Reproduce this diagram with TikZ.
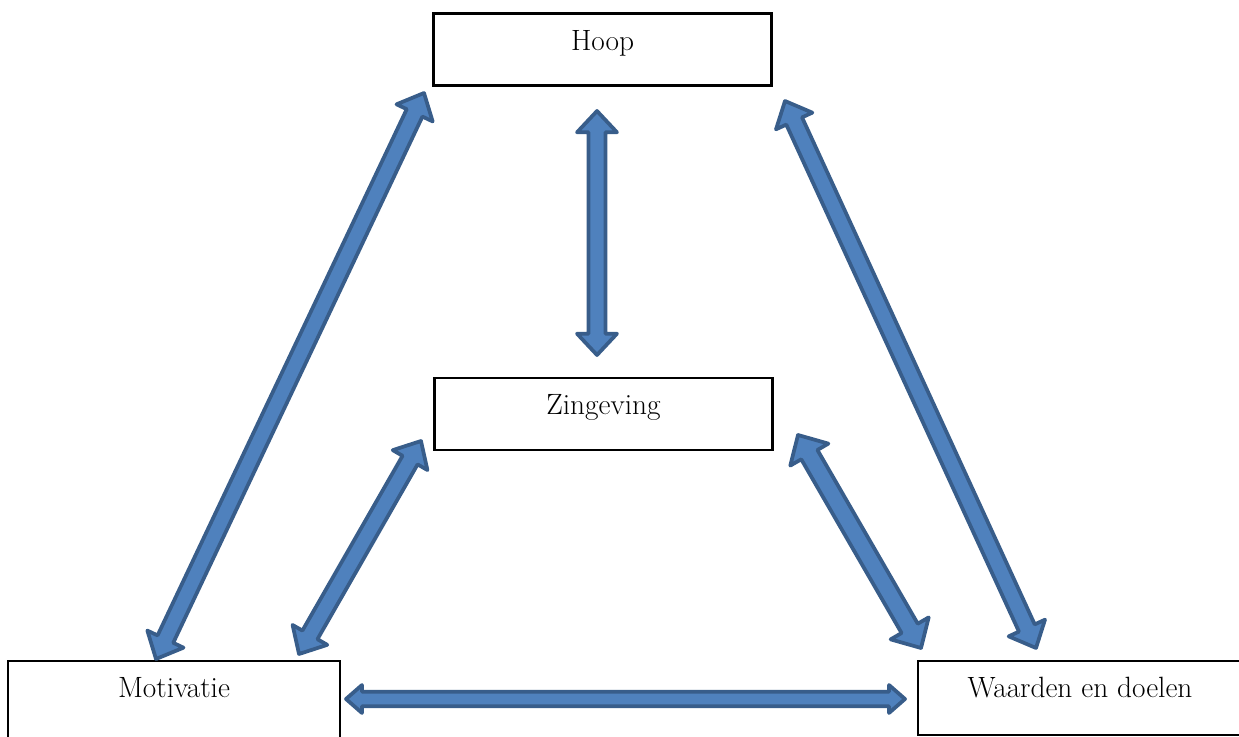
\documentclass[tikz,border=0pt]{standalone}
\usetikzlibrary{calc}
\definecolor{afill}{HTML}{4F81BD}
\definecolor{aline}{HTML}{385D8A}
\tikzset{
  box/.style={draw=black, line width=1.6pt, inner sep=0pt, fill=white},
  arr/.style={fill=afill, draw=aline, line width=2.8pt, line join=round},
  lbl/.style={font=\fontsize{22}{26}\selectfont, anchor=base, inner sep=0pt}
}
% #1 from, #2 to, #3 head length, #4 shaft half width, #5 head half width
\newcommand\dblarrow[5]{%
  \filldraw[arr] (#1)
    -- ($(#1)!#3!(#2)!#5!90:(#2)$)
    -- ($(#1)!#3!(#2)!#4!90:(#2)$)
    -- ($(#2)!#3!(#1)!#4!-90:(#1)$)
    -- ($(#2)!#3!(#1)!#5!-90:(#1)$)
    -- (#2)
    -- ($(#2)!#3!(#1)!#5!90:(#1)$)
    -- ($(#2)!#3!(#1)!#4!90:(#1)$)
    -- ($(#1)!#3!(#2)!#4!-90:(#2)$)
    -- ($(#1)!#3!(#2)!#5!-90:(#2)$)
    -- cycle;}
\begin{document}
\begin{tikzpicture}[x=0.75pt, y=-0.75pt]
  \useasboundingbox (0,0) rectangle (1239,737);
  \clip (0,0) rectangle (1239,737);
  % boxes
  \node[box, minimum width=253.5pt, minimum height=54pt] (hoop) at (602.5,49.5) {};
  \node[box, minimum width=253.5pt, minimum height=54pt] (zin) at (603.5,414) {};
  \node[box, minimum width=249pt, minimum height=59.25pt] (mot) at (174,700.5) {};
  \node[box, minimum width=243pt, minimum height=55.5pt] (waa) at (1080,698) {};
  % labels
  \node[lbl] (hoopt) at ($(hoop.north)+(0,38)$) {Hoop};
  \node[lbl] (zint) at ($(zin.north)+(0,38)$) {Zingeving};
  \node[lbl] (mott) at ($(mot.north)+(0,38)$) {Motivatie};
  \node[lbl] (waat) at ($(waa.north)+(0,38)$) {Waarden en doelen};
  % arrow end points
  \coordinate (a1s) at (597,111);  \coordinate (a1e) at (597,355);
  \coordinate (a2s) at (156,659);  \coordinate (a2e) at (424,93);
  \coordinate (a3s) at (299,654);  \coordinate (a3e) at (421,441);
  \coordinate (a4s) at (798,435);  \coordinate (a4e) at (921,648);
  \coordinate (a5s) at (785,101);  \coordinate (a5e) at (1036,648);
  \coordinate (a6s) at (346,699);  \coordinate (a6e) at (905,699);
  % arrows
  \dblarrow{a1s}{a1e}{16pt}{6.3pt}{15pt}
  \dblarrow{a2s}{a2e}{16.5pt}{6.5pt}{15pt}
  \dblarrow{a3s}{a3e}{16.5pt}{6.5pt}{15pt}
  \dblarrow{a4s}{a4e}{17pt}{7pt}{16.5pt}
  \dblarrow{a5s}{a5e}{16.5pt}{6.5pt}{15pt}
  \dblarrow{a6s}{a6e}{12pt}{5.4pt}{10.5pt}
\end{tikzpicture}
\end{document}
